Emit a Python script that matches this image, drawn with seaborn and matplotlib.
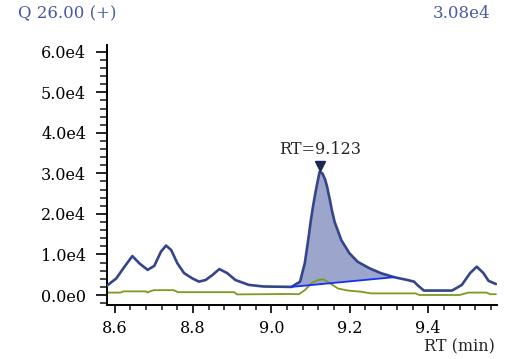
import numpy as np
import pandas as pd
import matplotlib
matplotlib.use("Agg")
import matplotlib.pyplot as plt
from matplotlib.ticker import MultipleLocator, FuncFormatter
import seaborn as sns

# Trace values (RT in min, intensity)
rt_main = [8.580, 8.604, 8.625, 8.645, 8.663, 8.684, 8.701, 8.718, 8.731, 8.744,
           8.760, 8.777, 8.798, 8.815, 8.832, 8.849, 8.867, 8.887, 8.908, 8.942,
           8.980, 9.051, 9.073, 9.085, 9.095, 9.100, 9.106, 9.112, 9.117, 9.123,
           9.130, 9.137, 9.142, 9.149, 9.154, 9.161, 9.178, 9.199, 9.220, 9.250,
           9.279, 9.313, 9.347, 9.364, 9.372, 9.389, 9.461, 9.486, 9.507, 9.524,
           9.541, 9.554, 9.573]
int_main = [2300, 4100, 7000, 9600, 7800, 6200, 7200, 10700, 12200, 11100,
            7800, 5400, 4100, 3300, 3700, 4900, 6400, 5400, 3700, 2500,
            2100, 2000, 3300, 7800, 14400, 18100, 21800, 25100, 27600, 30400,
            30000, 28500, 26700, 23500, 21000, 18100, 13600, 10300, 8200, 6600,
            5400, 4400, 3700, 3300, 2500, 1100, 1100, 2500, 5400, 7000,
            5400, 3500, 2700]

rt_ref = [8.580, 8.615, 8.622, 8.680, 8.684, 8.690, 8.700, 8.750, 8.762, 8.905,
          8.912, 9.043, 9.070, 9.085, 9.102, 9.119, 9.132, 9.149, 9.170, 9.195,
          9.229, 9.254, 9.368, 9.378, 9.480, 9.503, 9.549, 9.558, 9.573]
int_ref = [600, 600, 900, 900, 600, 900, 1200, 1200, 700, 700,
           150, 250, 200, 1200, 2900, 3700, 3900, 2900, 1600, 1100,
           800, 400, 400, 0, 0, 600, 600, 200, 200]

# integration baseline of the peak
base_rt = [9.051, 9.313]
base_int = [2000, 4400]
peak_rt = 9.123
peak_int = 30800
x_ticks = [8.6, 8.8, 9.0, 9.2, 9.4]

main = pd.DataFrame({"rt": rt_main, "intensity": int_main})
ref = pd.DataFrame({"rt": rt_ref, "intensity": int_ref})

sns.set_style("ticks")
plt.rcParams['font.family'] = ['DejaVu Serif']

fig = plt.figure(figsize=(5.24, 3.59), dpi=100)
ax = fig.add_axes([0.204, 0.150, 0.744, 0.725])

# shaded integrated area
sel = main[(main.rt >= base_rt[0]) & (main.rt <= base_rt[1])]
ax.fill(np.r_[sel.rt.values, base_rt[::-1]], np.r_[sel.intensity.values, base_int[::-1]],
        color="#9ca6cc", lw=0, zorder=1)

sns.lineplot(data=ref, x="rt", y="intensity", color="#7c9a1e", lw=1.3, ax=ax,
             sort=False, estimator=None, zorder=2, solid_joinstyle="round")
sns.lineplot(data=main, x="rt", y="intensity", color="#34458a", lw=1.9, ax=ax,
             sort=False, estimator=None, zorder=3, solid_joinstyle="round")
ax.plot(base_rt, base_int, color="#1530f0", lw=1.3, zorder=4)

ax.plot([peak_rt], [peak_int + 900], marker="v", color="#1c2657", ms=7, zorder=5)
ax.text(peak_rt, peak_int + 3000, "RT=9.123", ha="center", va="bottom", fontsize=11.5)

ax.set_xlim(8.58, 9.575)
ax.set_ylim(-2500, 61700)
ax.set_xticks(x_ticks)
ax.xaxis.set_major_formatter(FuncFormatter(lambda v, p: f"{v:.1f}"))
ax.xaxis.set_minor_locator(MultipleLocator(0.04))
ax.yaxis.set_major_locator(MultipleLocator(10000))
ax.yaxis.set_minor_locator(MultipleLocator(2000))
ax.yaxis.set_major_formatter(FuncFormatter(lambda v, p: f"{v/1e4:.1f}e4" if v else "0.0e0"))

for s in ["top", "right"]:
    ax.spines[s].set_visible(False)
for s in ["left", "bottom"]:
    ax.spines[s].set_linewidth(1.4)
    ax.spines[s].set_color("black")
ax.tick_params(axis="y", which="major", length=8, width=1.2, labelsize=11.5, pad=7, colors="black")
ax.tick_params(axis="y", which="minor", length=5, width=1.2)
ax.tick_params(axis="x", which="major", length=6, width=1.2, labelsize=11.5, pad=5, colors="black")
ax.tick_params(axis="x", which="minor", length=3.5, width=1.2)
ax.set_xlabel("")
ax.set_ylabel("")

fig.text(0.945, 0.035, "RT (min)", ha="right", va="center", fontsize=11.5)
fig.text(0.034, 0.962, "Q 26.00 (+)", ha="left", va="center", fontsize=12, color="#4a5a9e")
fig.text(0.935, 0.962, "3.08e4", ha="right", va="center", fontsize=12, color="#4a5a9e")

fig.savefig("out.png", dpi=100)
